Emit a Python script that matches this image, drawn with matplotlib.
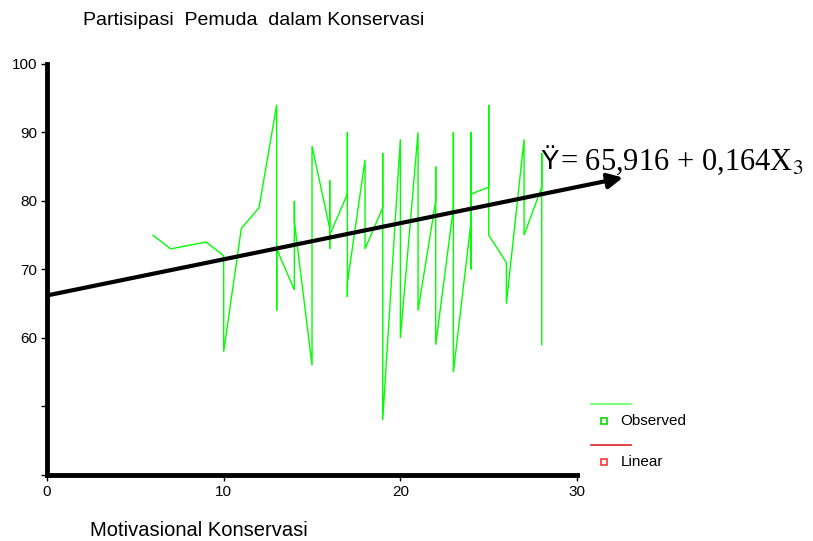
import numpy as np
import matplotlib
matplotlib.use("Agg")
import matplotlib.pyplot as plt
from matplotlib.lines import Line2D

plt.rcParams["font.family"] = ["Liberation Sans", "DejaVu Sans"]
plt.rcParams["mathtext.fontset"] = "stix"

# observed values (sorted by X, several observations per X)
obs_x = [6, 7, 9, 10, 10, 11, 12, 13, 13, 13, 14, 14, 14, 15, 15,
         16, 16, 16, 16, 17, 17, 17, 17, 18, 18, 19, 19, 19, 20, 20,
         21, 21, 22, 22, 22, 23, 23, 23, 24, 24, 24, 24, 25, 25, 25,
         26, 26, 27, 27, 28, 28, 28]
obs_y = [75, 73, 74, 72, 58, 76, 79, 94, 64, 73, 67, 80, 77, 56, 88,
         76, 83, 73, 75, 81, 90, 66, 68, 86, 73, 79, 87, 48, 89, 60,
         90, 64, 80, 85, 59, 79, 90, 55, 77, 90, 70, 81, 82, 94, 75,
         71, 65, 89, 75, 82, 87, 59]

# hand-drawn trend arrow and equation
arrow_x = [0, 32.6]
arrow_y = [66.2, 83.4]
eq_symbol = "Ÿ"
eq_rest = "= 65,916 + 0,164X$_3$"

y_ticks = [40, 50, 60, 70, 80, 90, 100]
y_labels = ["", "", "60", "70", "80", "90", "100"]
x_ticks = [0, 10, 20, 30]

fig = plt.figure(figsize=(8.13, 5.41), dpi=100)
ax = fig.add_axes([0.0578, 0.122, 0.652, 0.760])

ax.plot(obs_x, obs_y, color="#00ff00", lw=1.0, solid_joinstyle="miter")

ax.annotate("", xy=(arrow_x[1], arrow_y[1]), xytext=(arrow_x[0], arrow_y[0]),
            arrowprops=dict(arrowstyle="-|>,head_length=0.9,head_width=0.45",
                            lw=3, color="black", shrinkA=0, shrinkB=0),
            annotation_clip=False)
ax.text(27.9, 84.6, eq_symbol, fontsize=20, va="baseline", ha="left")
ax.text(29.05, 84.6, eq_rest, fontsize=22, family=["Liberation Serif", "DejaVu Serif"],
        va="baseline", ha="left")

ax.set_xlim(0, 30)
ax.set_ylim(40, 100)
ax.set_xticks(x_ticks)
ax.set_xticklabels([str(t) for t in x_ticks], fontsize=11)
ax.set_yticks(y_ticks)
ax.set_yticklabels(y_labels, fontsize=11)
ax.tick_params(direction="out", length=4, width=1, pad=3)

for side in ["top", "right"]:
    ax.spines[side].set_visible(False)
for side in ["left", "bottom"]:
    ax.spines[side].set_linewidth(3.5)
ax.spines["bottom"].set_capstyle("projecting")

fig.text(0.102, 0.963, "Partisipasi  Pemuda  dalam Konservasi", fontsize=14, va="center")
fig.text(0.111, 0.020, "Motivasional Konservasi", fontsize=14.5, va="center")

# legend, drawn by hand
fig.add_artist(Line2D([0.727, 0.776], [1 - 404 / 541] * 2, color="#66ff66", lw=1.2,
                      transform=fig.transFigure))
fig.add_artist(Line2D([0.743], [1 - 421 / 541], marker="s", markersize=5,
                      markerfacecolor="white", markeredgecolor="#00dd00", markeredgewidth=1.2,
                      linestyle="none", transform=fig.transFigure))
fig.text(0.763, 1 - 421 / 541, "Observed", fontsize=11, va="center")
fig.add_artist(Line2D([0.727, 0.776], [1 - 445 / 541] * 2, color="#dd2222", lw=1.2,
                      transform=fig.transFigure))
fig.add_artist(Line2D([0.743], [1 - 462 / 541], marker="s", markersize=5,
                      markerfacecolor="white", markeredgecolor="#ff3333", markeredgewidth=1.2,
                      linestyle="none", transform=fig.transFigure))
fig.text(0.763, 1 - 462 / 541, "Linear", fontsize=11, va="center")

fig.savefig("out.png", dpi=100)
